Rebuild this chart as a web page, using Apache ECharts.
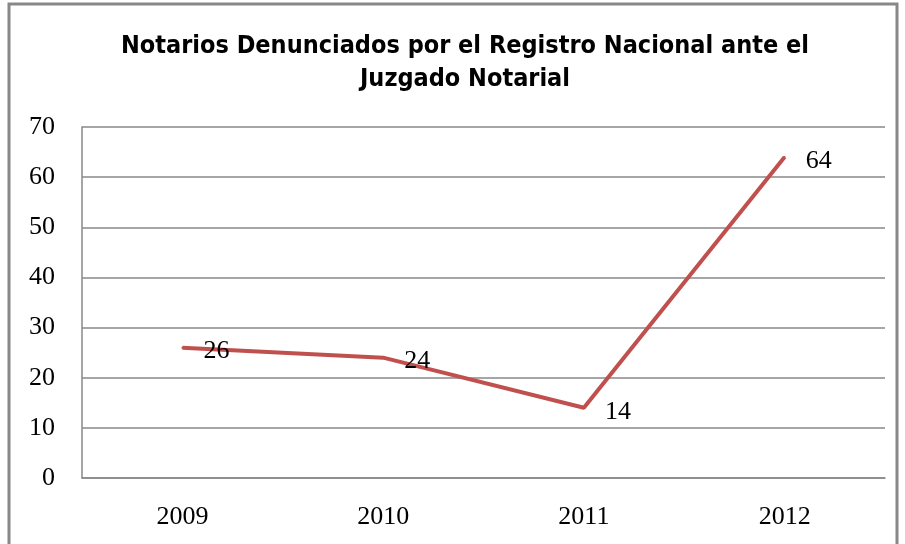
<!DOCTYPE html>
<html>
<head>
<meta charset="utf-8">
<script src="https://cdn.jsdelivr.net/npm/echarts@6/dist/echarts.min.js"></script>
<style>
	html, body { margin: 0; padding: 0; background: #fff; }
	#chart { width: 905px; height: 544px; }
</style>
</head>
<body>
<div id="chart"></div>
<script>
// datos
const years = ['2009', '2010', '2011', '2012']
const denuncias = [26, 24, 14, 64]
const yTicks = [0, 10, 20, 30, 40, 50, 60, 70]

const myChart = echarts.init(document.getElementById('chart'))
const serif = '"Liberation Serif", "DejaVu Serif", serif'

const option = {
	animation: false,
	backgroundColor: '#fff',
	title: {
		text: 'Notarios Denunciados por el Registro Nacional ante el\nJuzgado Notarial',
		left: 460,
		textAlign: 'center',
		top: 25,
		textStyle: {
			fontFamily: '"DejaVu Sans Condensed", "Liberation Sans", sans-serif',
			fontWeight: 'bold',
			fontSize: 25,
			lineHeight: 33,
			color: '#000'
		}
	},
	graphic: [
		{
			type: 'rect',
			shape: { x: 9, y: 4, width: 888, height: 560 },
			style: { fill: 'none', stroke: '#888', lineWidth: 3 }
		}
	],
	grid: {
		left: 82,
		right: 20,
		top: 127,
		bottom: 66
	},
	xAxis: {
		type: 'category',
		data: years,
		boundaryGap: true,
		axisTick: { show: false },
		axisLine: { lineStyle: { color: '#888', width: 1.5 } },
		axisLabel: {
			margin: 26,
			fontFamily: serif,
			fontSize: 26,
			color: '#000'
		}
	},
	yAxis: {
		type: 'value',
		min: yTicks[0],
		max: yTicks[yTicks.length - 1],
		interval: 10,
		axisTick: { show: false },
		axisLine: { show: true, lineStyle: { color: '#888', width: 1.5 } },
		splitLine: { lineStyle: { color: '#888', width: 1.5 } },
		axisLabel: {
			margin: 27,
			fontFamily: serif,
			fontSize: 26,
			color: '#000'
		}
	},
	series: [
		{
			type: 'line',
			data: denuncias,
			symbol: 'circle',
			symbolSize: 2,
			showSymbol: true,
			itemStyle: { color: '#c0504d' },
			lineStyle: { color: '#c0504d', width: 4 },
			label: {
				show: true,
				position: 'right',
				distance: 20,
				offset: [0, 4],
				fontFamily: serif,
				fontSize: 26,
				color: '#000'
			}
		}
	]
}
myChart.setOption(option)
</script>
</body>
</html>
